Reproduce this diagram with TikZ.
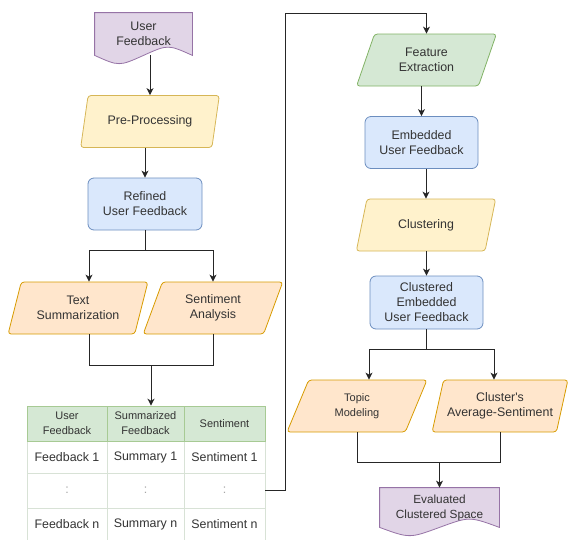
\documentclass[tikz,border=0pt]{standalone}
\usepackage{fontspec}
\setmainfont{Liberation Sans}
\usetikzlibrary{shapes.geometric,arrows.meta,calc,backgrounds}

\definecolor{bluefill}{HTML}{DAE8FC}
\definecolor{blueline}{HTML}{6C8EBF}
\definecolor{yellowfill}{HTML}{FFF2CC}
\definecolor{yellowline}{HTML}{D6B656}
\definecolor{orangefill}{HTML}{FFE6CC}
\definecolor{orangeline}{HTML}{D79B00}
\definecolor{greenfill}{HTML}{D5E8D4}
\definecolor{greenline}{HTML}{82B366}
\definecolor{purplefill}{HTML}{E1D5E7}
\definecolor{purpleline}{HTML}{9673A6}
\definecolor{gridline}{HTML}{D8E2D6}

\tikzset{
	base/.style = {font=\fontsize{12.4}{15}\selectfont, text=black!80, align=center, line width=0.8pt},
	task/.style = {base, trapezium, trapezium left angle=69, trapezium right angle=111,
			trapezium stretches, minimum width=140pt, minimum height=52pt, rounded corners=3pt, inner sep=1pt},
	taskY/.style = {task, fill=yellowfill, draw=yellowline},
	taskO/.style = {task, fill=orangefill, draw=orangeline},
	taskG/.style = {task, fill=greenfill, draw=greenline},
	data/.style = {base, rectangle, rounded corners=6pt, minimum width=113pt, minimum height=52pt,
			fill=bluefill, draw=blueline},
	doc/.style = {base, rectangle, inner sep=0pt},
	docshape/.style = {fill=purplefill, draw=purpleline, line width=0.8pt},
	cell/.style = {base, rectangle, fill=white, draw=gridline, line width=0.6pt, inner sep=1pt},
	headcell/.style = {cell, fill=greenfill, draw=greenline!70, minimum height=35pt,
			font=\fontsize{11}{15}\selectfont},
	line/.style = {draw=black!85, line width=0.9pt},
	flow/.style = {line, -{Stealth[length=7pt, width=7pt, inset=2pt]}},
}

\begin{document}
\begin{tikzpicture}[x=1pt, y=-1pt]
	\useasboundingbox (0,0) rectangle (568,539);

	% left column
	\node[doc, minimum width=97pt, minimum height=42pt] (uf) at (143.5,34) {User\\Feedback};
	\node[taskY] (pp) at (150,121.5) {Pre-Processing};
	\node[data, minimum width=114pt] (rf) at (145,204) {Refined\\User Feedback};
	\node[taskO] (ts) at (78,308) {Text\\Summarization};
	\node[taskO] (sa) at (213,308) {Sentiment\\Analysis};

	% table
	\node[cell, minimum width=80pt, minimum height=32pt] (tab21) at (67,457) {Feedback 1};
	\node[cell, minimum width=77pt, minimum height=32pt] (tab22) at (145.5,457) {Summary 1};
	\node[cell, minimum width=81pt, minimum height=32pt] (tab23) at (224.5,457) {Sentiment 1};
	\node[cell, minimum width=80pt, minimum height=35pt, text=black!35] (tab31) at (67,490.5) {:};
	\node[cell, minimum width=77pt, minimum height=35pt, text=black!35] (tab32) at (145.5,490.5) {:};
	\node[cell, minimum width=81pt, minimum height=35pt, text=black!35] (tab33) at (224.5,490.5) {:};
	\node[cell, minimum width=80pt, minimum height=32pt] (tab41) at (67,524) {Feedback n};
	\node[cell, minimum width=77pt, minimum height=32pt] (tab42) at (145.5,524) {Summary n};
	\node[cell, minimum width=81pt, minimum height=32pt] (tab43) at (224.5,524) {Sentiment n};
	\node[headcell, minimum width=80pt] (tab11) at (67,423.5) {User\\Feedback};
	\node[headcell, minimum width=77pt] (tab12) at (145.5,423.5) {Summarized\\Feedback};
	\node[headcell, minimum width=81pt] (tab13) at (224.5,423.5) {Sentiment};

	% right column
	\node[taskG] (fe) at (426.5,60) {Feature\\Extraction};
	\node[data] (eu) at (421.5,142.5) {Embedded\\User Feedback};
	\node[taskY] (cl) at (426,225) {Clustering};
	\node[data, minimum height=53pt] (cf) at (426.5,302.5) {Clustered\\Embedded\\User Feedback};
	\node[taskO, font=\fontsize{11}{15}\selectfont] (tm) at (357,406) {Topic\\Modeling};
	\node[taskO, minimum width=136pt] (ca) at (500,406) {Cluster\textquotesingle s\\Average-Sentiment};
	\node[doc, minimum width=119pt, minimum height=39pt, font=\fontsize{11.8}{15}\selectfont] (ev) at (439.5,507.5) {Evaluated\\Clustered Space};

	% document outlines
	\begin{scope}[on background layer]
		\path[docshape] (uf.north west) -- (uf.north east) -- (uf.south east)
			.. controls ($(uf.south)!.5!(uf.south east)+(0,-11)$) .. (uf.south)
			.. controls ($(uf.south)!.5!(uf.south west)+(0,11)$) .. (uf.south west) -- cycle;
		\path[docshape] (ev.north west) -- (ev.north east) -- (ev.south east)
			.. controls ($(ev.south)!.5!(ev.south east)+(0,-11)$) .. (ev.south)
			.. controls ($(ev.south)!.5!(ev.south west)+(0,11)$) .. (ev.south west) -- cycle;
	\end{scope}

	% connectors, left
	\draw[flow] (uf.south -| pp.north) -- (pp.north);
	\draw[flow] (pp.south -| rf.north) -- (rf.north);
	\draw[line] (rf.south) -- ++(0,20) coordinate (s1);
	\draw[flow] (s1) -| ($(ts.center |- ts.north)+(11,0)$);
	\draw[flow] (s1) -| (sa.center |- sa.north);
	\draw[line] ($(ts.center |- ts.south)+(11,0)$) -- ++(0,31) coordinate (j1) -| (sa.center |- sa.south);
	\coordinate (j1m) at ($(j1)!.5!(j1 -| sa.center)$);
	\draw[flow] (j1m) -- (j1m |- tab12.north);

	% connectors, right
	\coordinate (bend) at (285,13);
	\draw[flow] (tab33.east) -| (bend) -| (fe.north);
	\draw[flow] (fe.south -| eu.north) -- (eu.north);
	\draw[flow] (eu.south -| cl.north) -- (cl.north);
	\draw[flow] (cl.south -| cf.north) -- (cf.north);
	\draw[line] (cf.south) -- ++(0,20) coordinate (s2);
	\draw[flow] (s2) -| ($(tm.center |- tm.north)+(12,0)$);
	\draw[flow] (s2) -| ($(ca.center |- ca.north)+(-6,0)$);
	\draw[line] (tm.center |- tm.south) -- ++(0,30) coordinate (j2) -| (ca.center |- ca.south);
	\draw[flow] (j2 -| ev.north) -- (ev.north);
\end{tikzpicture}
\end{document}
